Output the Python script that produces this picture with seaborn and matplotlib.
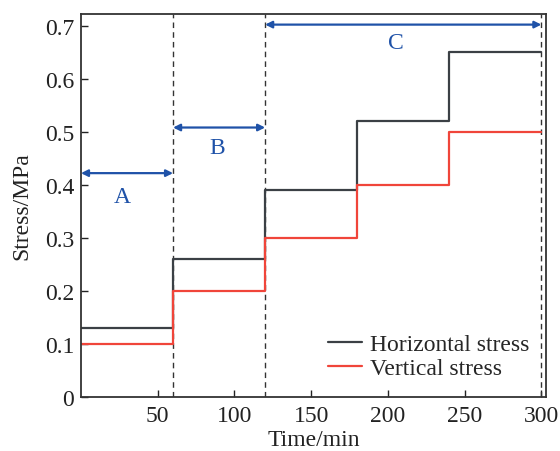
import matplotlib
matplotlib.use("Agg")
import matplotlib.pyplot as plt
import seaborn as sns
import pandas as pd

time = [0, 60, 120, 180, 240, 300]
horizontal = [0.13, 0.26, 0.39, 0.52, 0.65, 0.65]
vertical = [0.10, 0.20, 0.30, 0.40, 0.50, 0.50]
stage_bounds = [60, 120, 300]
stages = [("A", 0, 60, 0.422), ("B", 60, 120, 0.508), ("C", 120, 300, 0.702)]
label_pos = {"A": (27, 0.378), "B": (89, 0.470), "C": (205, 0.668)}
xticks = [50, 100, 150, 200, 250, 300]
yticks = [0, 0.1, 0.2, 0.3, 0.4, 0.5, 0.6, 0.7]
ytick_labels = ["0", "0.1", "0.2", "0.3", "0.4", "0.5", "0.6", "0.7"]

sns.set_style("ticks")
plt.rcParams['font.family'] = ['Liberation Serif', 'DejaVu Serif']

df = pd.DataFrame({"Time": time * 2,
                   "Stress": horizontal + vertical,
                   "Series": ["Horizontal stress"] * len(time) + ["Vertical stress"] * len(time)})

fig = plt.figure(figsize=(5.6, 4.52), dpi=100)
ax = fig.add_axes([0.1446, 0.1195, 0.8304, 0.8473])

dark = "#3b4045"
red = "#f0453a"
blue = "#1f52a8"

sns.lineplot(data=df, x="Time", y="Stress", hue="Series",
             palette={"Horizontal stress": dark, "Vertical stress": red},
             drawstyle="steps-post", lw=1.6, ax=ax, sort=False)

for xb in stage_bounds:
    ax.axvline(xb, color="#333333", ls=(0, (4, 3)), lw=1.0, zorder=1)

for name, x0, x1, y in stages:
    ax.annotate("", xy=(x1, y), xytext=(x0, y),
                arrowprops=dict(arrowstyle="<|-|>", color=blue, lw=1.6,
                                mutation_scale=10, shrinkA=0, shrinkB=0))
    lx, ly = label_pos[name]
    ax.text(lx, ly, name, color=blue, fontsize=17, ha="center", va="center")

ax.set_xlim(0, 303)
ax.set_ylim(0, 0.722)
ax.set_xticks(xticks)
ax.set_yticks(yticks)
ax.set_yticklabels(ytick_labels)
ax.tick_params(direction="in", length=5, width=1, labelsize=17, colors="#222222")
ax.tick_params(axis="x", pad=6)
ax.tick_params(axis="y", pad=5)
ax.set_xlabel("Time/min", fontsize=17, labelpad=2, color="#222222")
ax.set_ylabel("Stress/MPa", fontsize=17, labelpad=9, color="#222222")
for s in ax.spines.values():
    s.set_color("#333333")
    s.set_linewidth(1.3)

leg = ax.legend(loc="lower right", bbox_to_anchor=(0.995, 0.01), frameon=False,
                fontsize=17, handlelength=1.45, handletextpad=0.35,
                labelspacing=0.1, borderaxespad=0.2)

fig.savefig("out.png", dpi=100)
